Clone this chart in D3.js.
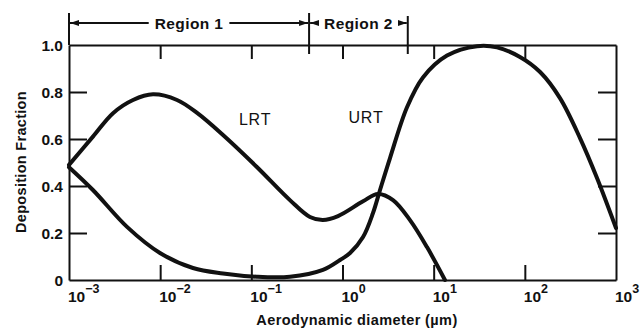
<!DOCTYPE html>
<html>
<head>
<meta charset="utf-8">
<script src="https://cdn.jsdelivr.net/npm/d3@7"></script>
<style>
  body { margin: 0; background: #fff; }
  text { font-family: "Liberation Sans", Arial, Helvetica, sans-serif; fill: #111; }
</style>
</head>
<body>
<svg id="chart" width="644" height="332"></svg>
<script>
// Axis ticks
const decades = [1e-3, 1e-2, 1e-1, 1, 10, 100, 1000];
const decadeExponents = ["\u22123", "\u22122", "\u22121", "0", "1", "2", "3"];
const fractionTicks = [0, 0.2, 0.4, 0.6, 0.8, 1.0];
const fractionLabels = ["0", "0.2", "0.4", "0.6", "0.8", "1.0"];

// Lower respiratory tract deposition vs aerodynamic diameter (µm)
const lrtDiameter = [0.001, 0.00183, 0.00304, 0.00504, 0.00834, 0.0153, 0.0254, 0.0489, 0.115, 0.265, 0.44, 0.61, 0.893, 1.68, 2.45, 3.58, 5.5, 8.45, 13.3];
const lrtFraction = [0.49, 0.61, 0.71, 0.766, 0.79, 0.766, 0.711, 0.617, 0.481, 0.34, 0.268, 0.255, 0.272, 0.335, 0.366, 0.34, 0.255, 0.14, 0.0];

// Upper respiratory tract deposition vs aerodynamic diameter (µm)
const urtDiameter = [0.001, 0.00183, 0.00433, 0.00995, 0.0229, 0.0489, 0.115, 0.265, 0.61, 0.94, 1.21, 1.68, 2.16, 2.58, 3.32, 5.1, 7.63, 14.0, 29.9, 49.5, 88.4, 147, 243, 403, 619, 1000];
const urtFraction = [0.48, 0.383, 0.226, 0.115, 0.051, 0.028, 0.014, 0.014, 0.043, 0.085, 0.115, 0.183, 0.285, 0.383, 0.519, 0.735, 0.862, 0.955, 0.995, 0.99, 0.949, 0.885, 0.774, 0.604, 0.434, 0.221];

// Particle size regions along the top of the plot
const regionEdges = [0.001, 0.43, 5.2];
const regionNames = ["Region 1", "Region 2"];

const svg = d3.select("#chart");
const plotLeft = 69, plotRight = 616, plotTop = 45, plotBottom = 280;

const x = d3.scaleLog().domain([1e-3, 1e3]).range([plotLeft, plotRight]);
const y = d3.scaleLinear().domain([0, 1]).range([plotBottom, plotTop]);

const ink = "#111";
const innerDecades = decades.slice(1, -1);
const innerFractions = fractionTicks.slice(1, -1);

// Frame with inward ticks on all four sides
function styleAxis(g) {
  g.selectAll("path").attr("stroke", ink).attr("stroke-width", 2);
  g.selectAll("line").attr("stroke", ink).attr("stroke-width", 2);
  g.selectAll("text").remove();
}
svg.append("g").attr("transform", `translate(0,${plotBottom})`)
  .call(d3.axisBottom(x).tickValues(innerDecades).tickSize(-15).tickSizeOuter(0).tickFormat(""))
  .call(styleAxis);
svg.append("g").attr("transform", `translate(0,${plotTop})`)
  .call(d3.axisTop(x).tickValues(innerDecades).tickSize(-14).tickSizeOuter(0).tickFormat(""))
  .call(styleAxis);
svg.append("g").attr("transform", `translate(${plotLeft},0)`)
  .call(d3.axisLeft(y).tickValues(innerFractions).tickSize(-18).tickSizeOuter(0).tickFormat(""))
  .call(styleAxis);
svg.append("g").attr("transform", `translate(${plotRight},0)`)
  .call(d3.axisRight(y).tickValues(innerFractions).tickSize(-18).tickSizeOuter(0).tickFormat(""))
  .call(styleAxis);

// Y tick labels
svg.append("g").selectAll("text").data(fractionTicks).join("text")
  .attr("x", plotLeft - 6)
  .attr("y", d => y(d))
  .attr("dy", "0.38em")
  .attr("text-anchor", "end")
  .attr("font-size", 15.5)
  .attr("font-weight", "bold")
  .text((d, i) => fractionLabels[i]);

// X tick labels: powers of ten
const xl = svg.append("g").selectAll("text").data(decades).join("text")
  .attr("x", d => x(d) - 1)
  .attr("y", 302)
  .attr("font-size", 15.5)
  .attr("font-weight", "bold");
xl.append("tspan").text("10");
xl.append("tspan").attr("dy", -9).attr("font-size", 12.5).text((d, i) => decadeExponents[i]);

// Axis titles
svg.append("text")
  .attr("x", 357).attr("y", 325)
  .attr("text-anchor", "middle")
  .attr("font-size", 14.5)
  .attr("font-weight", "bold")
  .attr("letter-spacing", 0.4)
  .text("Aerodynamic diameter (\u00b5m)");
svg.append("text")
  .attr("transform", "translate(26,162) rotate(-90)")
  .attr("text-anchor", "middle")
  .attr("font-size", 14.5)
  .attr("font-weight", "bold")
  .attr("letter-spacing", 0.3)
  .text("Deposition Fraction");

// Deposition curves
const line = d3.line()
  .x(d => x(d[0]))
  .y(d => y(d[1]))
  .curve(d3.curveCatmullRom.alpha(0.5));

const series = [
  { name: "LRT", pts: d3.zip(lrtDiameter, lrtFraction) },
  { name: "URT", pts: d3.zip(urtDiameter, urtFraction) }
];
svg.append("g").selectAll("path").data(series).join("path")
  .attr("d", d => line(d.pts))
  .attr("fill", "none")
  .attr("stroke", ink)
  .attr("stroke-width", 4)
  .attr("stroke-linejoin", "round")
  .attr("stroke-linecap", "round");

// Curve names
svg.append("text").attr("x", x(0.11)).attr("y", y(0.66))
  .attr("text-anchor", "middle").attr("font-size", 16).attr("letter-spacing", 0.8)
  .text("LRT");
svg.append("text").attr("x", x(1.81)).attr("y", y(0.668))
  .attr("text-anchor", "middle").attr("font-size", 16).attr("letter-spacing", 0.8)
  .text("URT");

// Region brackets
const defs = svg.append("defs");
defs.append("marker")
  .attr("id", "head")
  .attr("viewBox", "0 0 9 6")
  .attr("refX", 9).attr("refY", 3)
  .attr("markerUnits", "userSpaceOnUse")
  .attr("markerWidth", 9).attr("markerHeight", 6)
  .attr("orient", "auto")
  .append("path").attr("d", "M0,0L9,3L0,6Z").attr("fill", ink);

const bracketY = 23;
// left frame edge continues up to the bracket
svg.append("line")
  .attr("x1", x(regionEdges[0])).attr("x2", x(regionEdges[0]))
  .attr("y1", 13).attr("y2", plotTop)
  .attr("stroke", ink).attr("stroke-width", 2);
regionEdges.slice(1).forEach((e, i) => {
  svg.append("line")
    .attr("x1", x(e)).attr("x2", x(e))
    .attr("y1", i === 0 ? 13 : 16).attr("y2", 54)
    .attr("stroke", ink).attr("stroke-width", 2);
});

regionNames.forEach((name, i) => {
  const a = x(regionEdges[i]), b = x(regionEdges[i + 1]);
  const cx = (a + b) / 2;
  const t = svg.append("text")
    .attr("x", cx).attr("y", bracketY + 5.5)
    .attr("text-anchor", "middle")
    .attr("font-size", 15.5)
    .attr("font-weight", "bold")
    .attr("letter-spacing", 0.4)
    .text(name);
  const w = t.node().getComputedTextLength();
  const gap = 6;
  svg.append("line")
    .attr("x1", cx - w / 2 - gap).attr("x2", a + 1)
    .attr("y1", bracketY).attr("y2", bracketY)
    .attr("stroke", ink).attr("stroke-width", 2)
    .attr("marker-end", "url(#head)");
  svg.append("line")
    .attr("x1", cx + w / 2 + gap).attr("x2", b - 1)
    .attr("y1", bracketY).attr("y2", bracketY)
    .attr("stroke", ink).attr("stroke-width", 2)
    .attr("marker-end", "url(#head)");
});
</script>
</body>
</html>
